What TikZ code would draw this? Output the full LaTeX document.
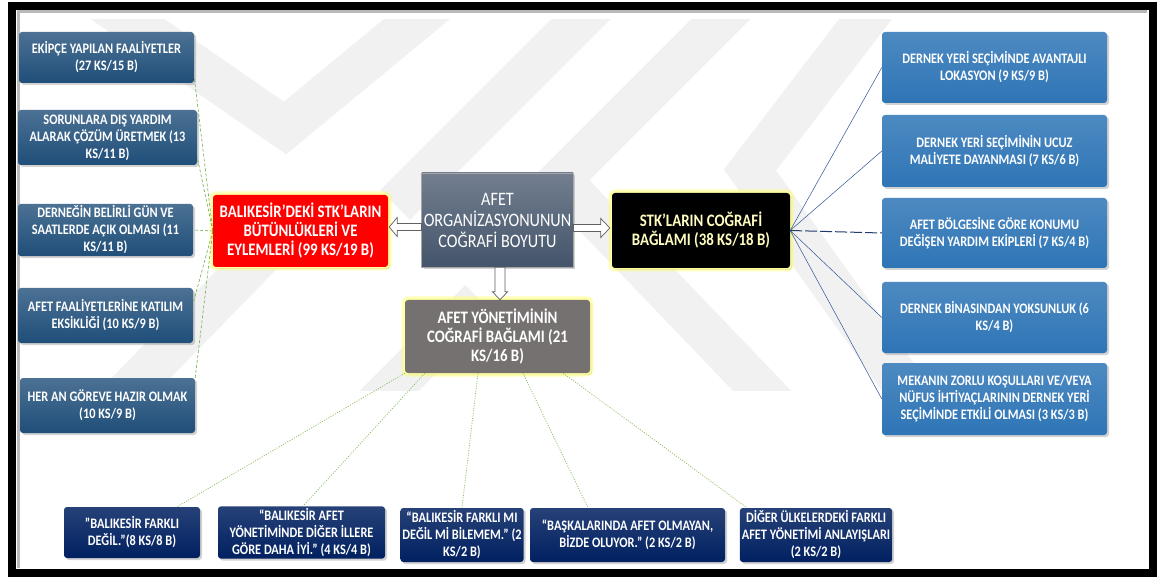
\documentclass[tikz,border=0pt]{standalone}
\usepackage{fontspec}
\setmainfont{Carlito}[FakeStretch=0.85]
\usetikzlibrary{calc,shadows}

\definecolor{lboxc}{HTML}{1F4E79}
\definecolor{rboxc}{HTML}{2E75B6}
\definecolor{bboxc}{HTML}{002060}
\definecolor{cboxc}{HTML}{44546A}
\definecolor{gboxc}{HTML}{767171}
\definecolor{glowc}{HTML}{FFFF66}
\definecolor{glinec}{HTML}{70AD47}
\definecolor{dlinec}{HTML}{8CC063}
\definecolor{blinec}{HTML}{2F5597}
\definecolor{wmarkc}{HTML}{F1F1F1}

\newcommand\boxfont{\bfseries\fontsize{14.5}{17}\selectfont}
\newcommand\headfont{\bfseries\fontsize{17.5}{19}\selectfont}

\tikzset{
  box/.style={rounded corners=3pt, align=center, text=white, inner sep=2pt,
    drop shadow={opacity=0.35, shadow xshift=2pt, shadow yshift=-2pt}},
  lbox/.style={box, top color=lboxc!80!white, bottom color=lboxc, font=\boxfont},
  rbox/.style={box, top color=rboxc!85!white, bottom color=rboxc, font=\boxfont},
  bbox/.style={box, top color=bboxc!85!white, bottom color=bboxc, font=\boxfont},
  glow/.style={preaction={draw=glowc, line width=7pt, opacity=0.45},
    preaction={draw=glowc!60!white, line width=3pt}},
  redbox/.style={box, glow, fill=red, font=\headfont},
  blkbox/.style={box, glow, fill=black, text=yellow!25!white, font=\headfont},
  grybox/.style={box, glow, fill=gboxc, font=\headfont},
  cbox/.style={box, rounded corners=0pt, top color=cboxc!75!white, bottom color=cboxc,
    draw=gray!70, line width=0.6pt, font=\fontsize{19}{21}\selectfont},
  barrow/.style={fill=white, draw=gray!75!black, line width=0.7pt, line join=miter},
  gdash/.style={draw=glinec, line width=0.6pt, dash pattern=on 3pt off 2pt},
  gdot/.style={draw=dlinec, line width=0.8pt, dash pattern=on 1pt off 1.5pt},
  bline/.style={draw=blinec, line width=0.5pt},
  wmark/.style={draw=wmarkc, line width=42pt, line join=miter},
}

\begin{document}
\begin{tikzpicture}[x=1pt,y=-1pt]
\useasboundingbox (0,0) rectangle (1159,577);
\fill[white] (0,0) rectangle (1159,577);

% faint background emblem
\begin{scope}
  \clip (16,20) rectangle (1147,390);
  \draw[wmark] (100,0) -- (285,128) -- (440,0);
  \draw[wmark] (600,0) -- (395,205);
  \draw[wmark] (740,0) -- (560,180) -- (790,420);
  \draw[wmark] (880,0) -- (750,170) -- (900,380);
  \draw[wmark] (100,420) -- (300,215);
  \draw[wmark] (360,420) -- (480,300);
\end{scope}

% frame
\draw[gray!55, line width=3pt] (18,568) -- (18,12) -- (1147,12);
\draw[black, line width=8pt] (12,6) rectangle (1153,573);

% central node and its three branches
\node[cbox, minimum width=151pt, minimum height=94pt] (c) at (497.5,220)
  {AFET\\ORGANİZASYONUNUN\\COĞRAFİ BOYUTU};
\node[redbox, minimum width=175pt, minimum height=72pt] (red) at (300.5,231)
  {BALIKESİR’DEKİ STK’LARIN\\BÜTÜNLÜKLERİ VE\\EYLEMLERİ (99 KS/19 B)};
\node[blkbox, minimum width=178pt, minimum height=75pt] (blk) at (701,230.5)
  {STK’LARIN COĞRAFİ\\BAĞLAMI (38 KS/18 B)};
\node[grybox, minimum width=185pt, minimum height=73pt] (g) at (497.5,336.5)
  {AFET YÖNETİMİNİN\\COĞRAFİ BAĞLAMI (21\\KS/16 B)};

% block arrows
\draw[barrow] let \p1=($(c.west)+(0,7)$), \p2=(red.east) in
  (\x1,\y1+3.5pt) -- (\x2+9pt,\y1+3.5pt) -- (\x2+9pt,\y1+9.5pt) -- (\x2+1pt,\y1)
  -- (\x2+9pt,\y1-9.5pt) -- (\x2+9pt,\y1-3.5pt) -- (\x1,\y1-3.5pt) -- cycle;
\draw[barrow] let \p1=($(c.east)+(0,8)$), \p2=(blk.west) in
  (\x1,\y1+3.5pt) -- (\x2-11pt,\y1+3.5pt) -- (\x2-11pt,\y1+9.5pt) -- (\x2-2pt,\y1)
  -- (\x2-11pt,\y1-9.5pt) -- (\x2-11pt,\y1-3.5pt) -- (\x1,\y1-3.5pt) -- cycle;
\draw[barrow] let \p1=($(c.south)+(2.5,0)$), \p2=(g.north) in
  (\x1-5pt,\y1) -- (\x1-5pt,\y2+8pt) -- (\x1-7.5pt,\y2+8pt) -- (\x1,\y2)
  -- (\x1+7.5pt,\y2+8pt) -- (\x1+5pt,\y2+8pt) -- (\x1+5pt,\y1) -- cycle;

% left branch
\node[lbox, minimum width=175pt, minimum height=51pt] (l1) at (106.5,57.5)
  {EKİPÇE YAPILAN FAALİYETLER\\(27 KS/15 B)};
\node[lbox, minimum width=179pt, minimum height=55pt] (l2) at (107.5,137.5)
  {SORUNLARA DIŞ YARDIM\\ALARAK ÇÖZÜM ÜRETMEK (13\\KS/11 B)};
\node[lbox, minimum width=175pt, minimum height=50pt] (l3) at (105.5,230)
  {DERNEĞİN BELİRLİ GÜN VE\\SAATLERDE AÇIK OLMASI (11\\KS/11 B)};
\node[lbox, minimum width=175pt, minimum height=55pt] (l4) at (105.5,315.5)
  {AFET FAALİYETLERİNE KATILIM\\EKSİKLİĞİ (10 KS/9 B)};
\node[lbox, minimum width=175pt, minimum height=55pt] (l5) at (107.5,405.5)
  {HER AN GÖREVE HAZIR OLMAK\\(10 KS/9 B)};

\draw[gdash] (red.west) -- ([yshift=-19.5pt]l1.east);
\draw[gdash] (red.west) -- ([yshift=-19.5pt]l2.east);
\draw[gdash] (red.west) -- (l3.east);
\draw[gdash] (red.west) -- ([yshift=12.5pt]l4.east);
\draw[gdash] (red.west) -- (l5.north east);

% right branch
\node[rbox, minimum width=225pt, minimum height=71pt] (r1) at (994.5,67.5)
  {DERNEK YERİ SEÇİMİNDE AVANTAJLI\\LOKASYON (9 KS/9 B)};
\node[rbox, minimum width=225pt, minimum height=72pt] (r2) at (994.5,151)
  {DERNEK YERİ SEÇİMİNİN UCUZ\\MALİYETE DAYANMASI (7 KS/6 B)};
\node[rbox, minimum width=225pt, minimum height=70pt] (r3) at (994.5,233)
  {AFET BÖLGESİNE GÖRE KONUMU\\DEĞİŞEN YARDIM EKİPLERİ (7 KS/4 B)};
\node[rbox, minimum width=225pt, minimum height=71pt] (r4) at (994.5,317.5)
  {DERNEK BİNASINDAN YOKSUNLUK (6\\KS/4 B)};
\node[rbox, minimum width=225pt, minimum height=72pt] (r5) at (994.5,399)
  {MEKANIN ZORLU KOŞULLARI VE/VEYA\\NÜFUS İHTİYAÇLARININ DERNEK YERİ\\SEÇİMİNDE ETKİLİ OLMASI (3 KS/3 B)};

\draw[bline] (blk.east) -- (r1.west);
\draw[bline] (blk.east) -- (r2.west);
\draw[bline, draw=blinec!70!black, line width=1pt, dash pattern=on 12pt off 3pt] (blk.east) -- (r3.west);
\draw[bline] (blk.east) -- (r4.west);
\draw[bline] (blk.east) -- (r5.west);

% bottom branch
\node[bbox, minimum width=136pt, minimum height=51pt] (b1) at (132,532.5)
  {"BALIKESİR FARKLI\\DEĞİL."(8 KS/8 B)};
\node[bbox, minimum width=167pt, minimum height=49pt] (b2) at (301.5,532.5)
  {“BALIKESİR AFET\\YÖNETİMİNDE DİĞER İLLERE\\GÖRE DAHA İYİ.” (4 KS/4 B)};
\node[bbox, minimum width=120pt, minimum height=54pt] (b3) at (462,535)
  {“BALIKESİR FARKLI MI\\DEĞİL Mİ BİLEMEM.” (2\\KS/2 B)};
\node[bbox, minimum width=195pt, minimum height=54pt] (b4) at (627.5,535)
  {“BAŞKALARINDA AFET OLMAYAN,\\BİZDE OLUYOR.” (2 KS/2 B)};
\node[bbox, minimum width=148pt, minimum height=54pt] (b5) at (816,535)
  {DİĞER ÜLKELERDEKİ FARKLI\\AFET YÖNETİMİ ANLAYIŞLARI\\(2 KS/2 B)};

\draw[gdot] (g.south west) -- ([xshift=45pt]b1.north);
\draw[gdot] ([xshift=20pt]g.south west) -- ([xshift=1.5pt]b2.north);
\draw[gdot] ([xshift=-19.5pt]g.south) -- (b3.north);
\draw[gdot] ([xshift=25.5pt]g.south) -- ([xshift=-39.5pt]b4.north);
\draw[gdot] ([xshift=-27pt]g.south east) -- ([xshift=-69pt]b5.north);
\end{tikzpicture}
\end{document}
